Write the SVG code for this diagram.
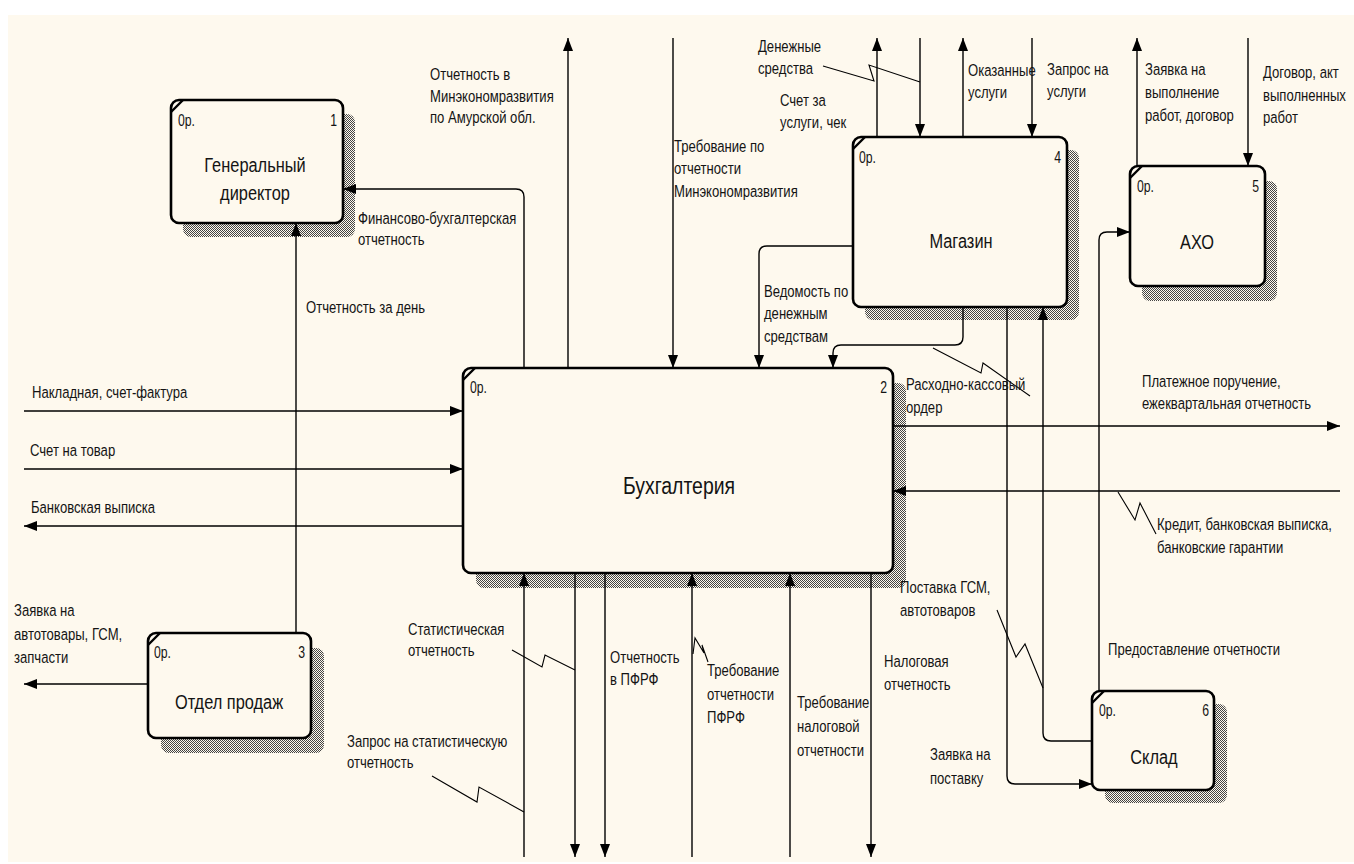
<svg xmlns="http://www.w3.org/2000/svg" width="1354" height="864" viewBox="0 0 1354 864">
  <defs>
    <style>
      text { font-family: "Liberation Sans", Arial, sans-serif; fill: #141414; transform-box: fill-box; }
      .lbl { font-size: 17px; transform: scaleX(0.77); transform-origin: 0 0; }
      .ttl { font-size: 21px; text-anchor: middle; transform: scaleX(0.78); transform-origin: 50% 50%; }
      .big { font-size: 24px; transform: scaleX(0.81); }
      .ref { font-size: 17px; transform: scaleX(0.72); transform-origin: 0 0; }
      .num { text-anchor: end; transform-origin: 100% 0; }
      .box { fill: #fef9ee; stroke: #000; stroke-width: 2.6; }
      .shadow { fill: url(#hatch); }
      .corner { stroke: #000; stroke-width: 2.4; fill: none; }
      .flow { fill: none; stroke: #000; stroke-width: 1.4; }
      .flow-in { marker-end: url(#arr); }
      .squiggle { fill: none; stroke: #000; stroke-width: 1.1; }
    </style>
    <pattern id="hatch" width="2" height="2" patternUnits="userSpaceOnUse">
      <rect width="2" height="2" fill="#fef9ee"/>
      <rect width="1" height="1" fill="#444"/>
      <rect x="1" y="1" width="1" height="1" fill="#444"/>
    </pattern>
    <marker id="arr" viewBox="0 0 13 10" refX="13" refY="5" markerWidth="13" markerHeight="10" markerUnits="userSpaceOnUse" orient="auto">
      <path d="M0,0 L13,5 L0,10 z" fill="#000"/>
    </marker>
  </defs>

  <!-- page -->
  <rect x="0" y="0" width="1354" height="864" fill="#ffffff"/>
  <rect x="8" y="15" width="1346" height="847" fill="#fef9ee"/>

  <!-- activity boxes -->
  <g id="node-1">
    <rect class="shadow" x="183" y="114" width="172" height="123" rx="8"/>
    <rect class="box" x="171" y="100" width="172" height="123" rx="8"/>
    <path class="corner" d="M171,112 L183,100"/>
    <text class="ref" x="178" y="126">0р.</text>
    <text class="ref num" x="337" y="126">1</text>
    <text class="ttl" x="255" y="172">Генеральный</text>
    <text class="ttl" x="255" y="200">директор</text>
  </g>

  <g id="node-2">
    <rect class="shadow" x="476" y="383" width="430" height="205" rx="8"/>
    <rect class="box" x="463" y="368" width="430" height="205" rx="8"/>
    <path class="corner" d="M463,380 L475,368"/>
    <text class="ref" x="470" y="393">0р.</text>
    <text class="ref num" x="887" y="393">2</text>
    <text class="ttl big" x="679" y="494">Бухгалтерия</text>
  </g>

  <g id="node-3">
    <rect class="shadow" x="161" y="648" width="163" height="105" rx="8"/>
    <rect class="box" x="148" y="633" width="163" height="105" rx="8"/>
    <path class="corner" d="M148,645 L160,633"/>
    <text class="ref" x="154" y="658">0р.</text>
    <text class="ref num" x="305" y="658">3</text>
    <text class="ttl" x="229" y="709">Отдел продаж</text>
  </g>

  <g id="node-4">
    <rect class="shadow" x="865" y="150" width="214" height="170" rx="8"/>
    <rect class="box" x="853" y="137" width="214" height="170" rx="8"/>
    <path class="corner" d="M853,149 L865,137"/>
    <text class="ref" x="859" y="163">0р.</text>
    <text class="ref num" x="1061" y="163">4</text>
    <text class="ttl" x="961" y="248">Магазин</text>
  </g>

  <g id="node-5">
    <rect class="shadow" x="1142" y="181" width="135" height="120" rx="8"/>
    <rect class="box" x="1130" y="166" width="135" height="120" rx="8"/>
    <path class="corner" d="M1130,178 L1142,166"/>
    <text class="ref" x="1137" y="192">0р.</text>
    <text class="ref num" x="1259" y="192">5</text>
    <text class="ttl" x="1197" y="249">АХО</text>
  </g>

  <g id="node-6">
    <rect class="shadow" x="1105" y="704" width="122" height="99" rx="8"/>
    <rect class="box" x="1092" y="691" width="122" height="99" rx="8"/>
    <path class="corner" d="M1092,703 L1104,691"/>
    <text class="ref" x="1099" y="716">0р.</text>
    <text class="ref num" x="1209" y="716">6</text>
    <text class="ttl" x="1154" y="764">Склад</text>
  </g>

  <!-- arrows between boxes and to the frame -->
  <g id="connectors">
    <!-- left border inputs / outputs of Бухгалтерия -->
    <path class="flow flow-in" d="M24,411 H463"/>
    <path class="flow flow-in" d="M24,469 H463"/>
    <path class="flow flow-in" d="M463,526 H24"/>
    <!-- Отдел продаж -->
    <path class="flow flow-in" d="M296,633 V223"/>
    <path class="flow flow-in" d="M148,684 H24"/>
    <!-- top of Бухгалтерия -->
    <path class="flow flow-in" d="M524,368 V197 Q524,189 516,189 H343"/>
    <path class="flow flow-in" d="M568,368 V38"/>
    <path class="flow flow-in" d="M673,38 V368"/>
    <path class="flow flow-in" d="M853,246 H767 Q759,246 759,254 V368"/>
    <path class="flow flow-in" d="M963,307 V337 Q963,345 955,345 H841 Q833,345 833,353 V368"/>
    <!-- top of Магазин -->
    <path class="flow flow-in" d="M877,137 V38"/>
    <path class="flow flow-in" d="M920,38 V137"/>
    <path class="flow flow-in" d="M963,137 V38"/>
    <path class="flow flow-in" d="M1032,38 V137"/>
    <!-- top of АХО -->
    <path class="flow flow-in" d="M1137,166 V38"/>
    <path class="flow flow-in" d="M1248,38 V166"/>
    <!-- Склад links -->
    <path class="flow flow-in" d="M1099,691 V240 Q1099,232 1107,232 H1130"/>
    <path class="flow flow-in" d="M1007,307 V776 Q1007,784 1015,784 H1092"/>
    <path class="flow flow-in" d="M1092,741 H1051 Q1043,741 1043,733 V307"/>
    <!-- right border -->
    <path class="flow flow-in" d="M893,426 H1340"/>
    <path class="flow flow-in" d="M1340,491 H893"/>
    <!-- bottom of Бухгалтерия -->
    <path class="flow flow-in" d="M524,857 V573"/>
    <path class="flow flow-in" d="M575,573 V857"/>
    <path class="flow flow-in" d="M605,573 V857"/>
    <path class="flow flow-in" d="M692,857 V573"/>
    <path class="flow flow-in" d="M790,857 V573"/>
    <path class="flow flow-in" d="M871,573 V857"/>

    <!-- label leaders -->
    <polyline class="squiggle" points="823,66 874,81 869,65 920,82"/>
    <polyline class="squiggle" points="933,348 981,373 983,363 1030,396"/>
    <polyline class="squiggle" points="1118,492 1135,520 1140,503 1156,534"/>
    <polyline class="squiggle" points="997,610 1016,657 1025,644 1043,688"/>
    <polyline class="squiggle" points="512,650 542,667 545,655 575,670"/>
    <polyline class="squiggle" points="432,776 477,802 479,787 524,812"/>
    <polyline class="squiggle" points="693,654 695,638 704,653 702,645 708,662"/>
  </g>

  <!-- arrow labels -->
  <g id="labels">
    <text class="lbl" x="430" y="80">Отчетность в</text>
    <text class="lbl" x="430" y="102">Минэкономразвития</text>
    <text class="lbl" x="430" y="123">по Амурской обл.</text>

    <text class="lbl" x="358" y="224">Финансово-бухгалтерская</text>
    <text class="lbl" x="358" y="245">отчетность</text>

    <text class="lbl" x="306" y="313">Отчетность за день</text>

    <text class="lbl" x="674" y="152">Требование по</text>
    <text class="lbl" x="674" y="174">отчетности</text>
    <text class="lbl" x="674" y="197">Минэкономразвития</text>

    <text class="lbl" x="758" y="52">Денежные</text>
    <text class="lbl" x="758" y="74">средства</text>

    <text class="lbl" x="780" y="106">Счет за</text>
    <text class="lbl" x="780" y="128">услуги, чек</text>

    <text class="lbl" x="968" y="76">Оказанные</text>
    <text class="lbl" x="968" y="98">услуги</text>

    <text class="lbl" x="1047" y="75">Запрос на</text>
    <text class="lbl" x="1047" y="97">услуги</text>

    <text class="lbl" x="1145" y="75">Заявка на</text>
    <text class="lbl" x="1145" y="98">выполнение</text>
    <text class="lbl" x="1145" y="121">работ, договор</text>

    <text class="lbl" x="1263" y="78">Договор, акт</text>
    <text class="lbl" x="1263" y="101">выполненных</text>
    <text class="lbl" x="1263" y="123">работ</text>

    <text class="lbl" x="764" y="297">Ведомость по</text>
    <text class="lbl" x="764" y="319">денежным</text>
    <text class="lbl" x="764" y="342">средствам</text>

    <text class="lbl" x="906" y="390">Расходно-кассовый</text>
    <text class="lbl" x="906" y="413">ордер</text>

    <text class="lbl" x="1142" y="387">Платежное поручение,</text>
    <text class="lbl" x="1142" y="409">ежеквартальная отчетность</text>

    <text class="lbl" x="1157" y="530">Кредит, банковская выписка,</text>
    <text class="lbl" x="1157" y="553">банковские гарантии</text>

    <text class="lbl" x="32" y="398">Накладная, счет-фактура</text>
    <text class="lbl" x="30" y="456">Счет на товар</text>
    <text class="lbl" x="31" y="513">Банковская выписка</text>

    <text class="lbl" x="14" y="616">Заявка на</text>
    <text class="lbl" x="14" y="640">автотовары, ГСМ,</text>
    <text class="lbl" x="14" y="663">запчасти</text>

    <text class="lbl" x="408" y="635">Статистическая</text>
    <text class="lbl" x="408" y="656">отчетность</text>

    <text class="lbl" x="347" y="747">Запрос на статистическую</text>
    <text class="lbl" x="347" y="768">отчетность</text>

    <text class="lbl" x="610" y="663">Отчетность</text>
    <text class="lbl" x="610" y="685">в ПФРФ</text>

    <text class="lbl" x="707" y="676">Требование</text>
    <text class="lbl" x="707" y="700">отчетности</text>
    <text class="lbl" x="707" y="723">ПФРФ</text>

    <text class="lbl" x="797" y="708">Требование</text>
    <text class="lbl" x="797" y="732">налоговой</text>
    <text class="lbl" x="797" y="756">отчетности</text>

    <text class="lbl" x="884" y="667">Налоговая</text>
    <text class="lbl" x="884" y="690">отчетность</text>

    <text class="lbl" x="900" y="593">Поставка ГСМ,</text>
    <text class="lbl" x="900" y="616">автотоваров</text>

    <text class="lbl" x="1108" y="655">Предоставление отчетности</text>

    <text class="lbl" x="930" y="760">Заявка на</text>
    <text class="lbl" x="930" y="784">поставку</text>
  </g>
</svg>
